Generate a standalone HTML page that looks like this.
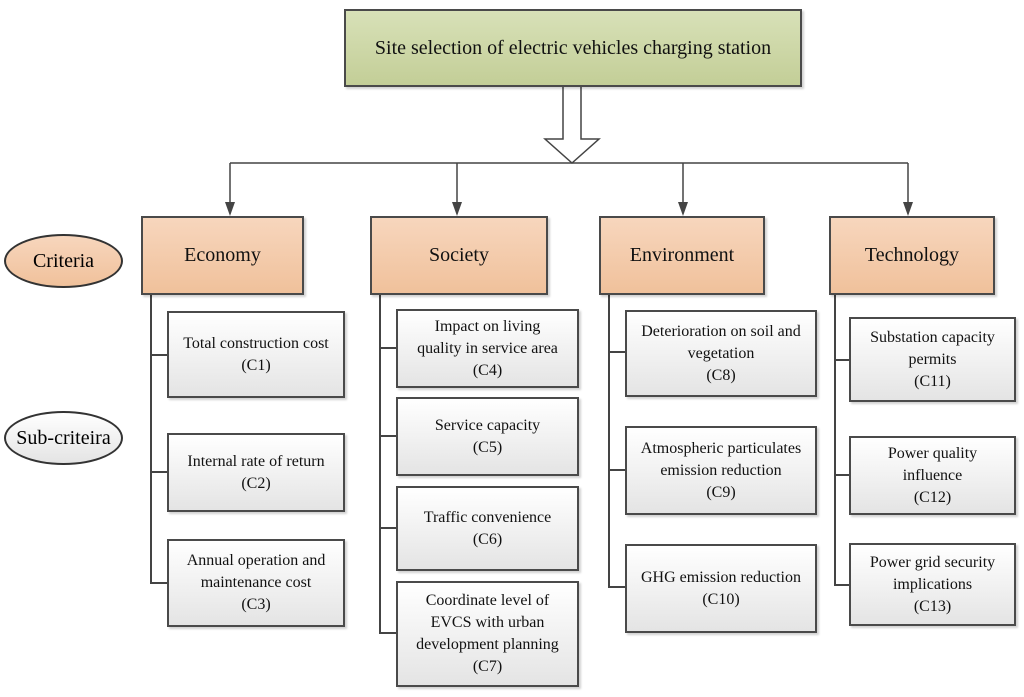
<!DOCTYPE html>
<html><head><meta charset="utf-8"><style>
body{margin:0;width:1024px;height:697px;background:#fff;position:relative;overflow:hidden;font-family:"Liberation Serif",serif;}
.b{position:absolute;box-sizing:border-box;border:2px solid #4a4a4a;display:flex;align-items:center;justify-content:center;text-align:center;color:#111;box-shadow:2px 2px 2px rgba(0,0,0,.18);}
.s{background:linear-gradient(#ffffff,#e4e4e4);font-size:16px;line-height:22px;}
.c{background:linear-gradient(#f7d6bd,#f0c19b);font-size:20px;}
.e{position:absolute;box-sizing:border-box;border:2px solid #333;border-radius:50%;display:flex;align-items:center;justify-content:center;font-size:20px;}
svg{position:absolute;left:0;top:0}
</style></head><body>
<svg width="1024" height="697">
<path d="M563,87 V139 H545 L572,163 L599,139 H581 V87" fill="#fff" stroke="#444" stroke-width="1.5"/>
<path d="M230,163 H908" stroke="#444" stroke-width="1.5" fill="none"/>
<g stroke="#444" stroke-width="1.5"><line x1="230" y1="163" x2="230" y2="205"/><line x1="457" y1="163" x2="457" y2="205"/><line x1="683" y1="163" x2="683" y2="205"/><line x1="908" y1="163" x2="908" y2="205"/></g>
<g fill="#444"><path d="M225,202 H235 L230,216Z"/><path d="M452,202 H462 L457,216Z"/><path d="M678,202 H688 L683,216Z"/><path d="M903,202 H913 L908,216Z"/></g>
<g stroke="#444" stroke-width="2" fill="none">
<path d="M151,294 V583 H167 M151,355 H167 M151,472 H167"/>
<path d="M380,294 V633 H396 M380,348 H396 M380,436 H396 M380,528 H396"/>
<path d="M609,294 V587 H625 M609,352 H625 M609,470 H625"/>
<path d="M835,294 V585 H849 M835,360 H849 M835,475 H849"/>
</g>
</svg>
<div class="b" style="left:344px;top:9px;width:458px;height:78px;background:linear-gradient(#d8e1b8,#c3ce97);font-size:20px;">Site selection of electric vehicles charging station</div>
<div class="b c" style="left:141px;top:216px;width:163px;height:79px;">Economy</div>
<div class="b c" style="left:370px;top:216px;width:178px;height:79px;">Society</div>
<div class="b c" style="left:599px;top:216px;width:166px;height:79px;">Environment</div>
<div class="b c" style="left:829px;top:216px;width:166px;height:79px;">Technology</div>
<div class="e" style="left:4px;top:234px;width:119px;height:54px;background:linear-gradient(#f7d6bd,#f0c19b);">Criteria</div>
<div class="e" style="left:4px;top:411px;width:119px;height:54px;background:linear-gradient(#fff,#e4e4e4);">Sub-criteira</div>
<div class="b s" style="left:167px;top:311px;width:178px;height:87px;">Total construction cost<br>(C1)</div>
<div class="b s" style="left:167px;top:433px;width:178px;height:79px;">Internal rate of return<br>(C2)</div>
<div class="b s" style="left:167px;top:539px;width:178px;height:88px;">Annual operation and<br>maintenance cost<br>(C3)</div>
<div class="b s" style="left:396px;top:309px;width:183px;height:79px;">Impact on living<br>quality in service area<br>(C4)</div>
<div class="b s" style="left:396px;top:397px;width:183px;height:79px;">Service capacity<br>(C5)</div>
<div class="b s" style="left:396px;top:486px;width:183px;height:85px;">Traffic convenience<br>(C6)</div>
<div class="b s" style="left:396px;top:581px;width:183px;height:106px;">Coordinate level of<br>EVCS with urban<br>development planning<br>(C7)</div>
<div class="b s" style="left:625px;top:310px;width:192px;height:87px;">Deterioration on soil and<br>vegetation<br>(C8)</div>
<div class="b s" style="left:625px;top:426px;width:192px;height:89px;">Atmospheric particulates<br>emission reduction<br>(C9)</div>
<div class="b s" style="left:625px;top:544px;width:192px;height:89px;">GHG emission reduction<br>(C10)</div>
<div class="b s" style="left:849px;top:317px;width:167px;height:85px;">Substation capacity<br>permits<br>(C11)</div>
<div class="b s" style="left:849px;top:436px;width:167px;height:79px;">Power quality<br>influence<br>(C12)</div>
<div class="b s" style="left:849px;top:543px;width:167px;height:83px;">Power grid security<br>implications<br>(C13)</div>
</body></html>
